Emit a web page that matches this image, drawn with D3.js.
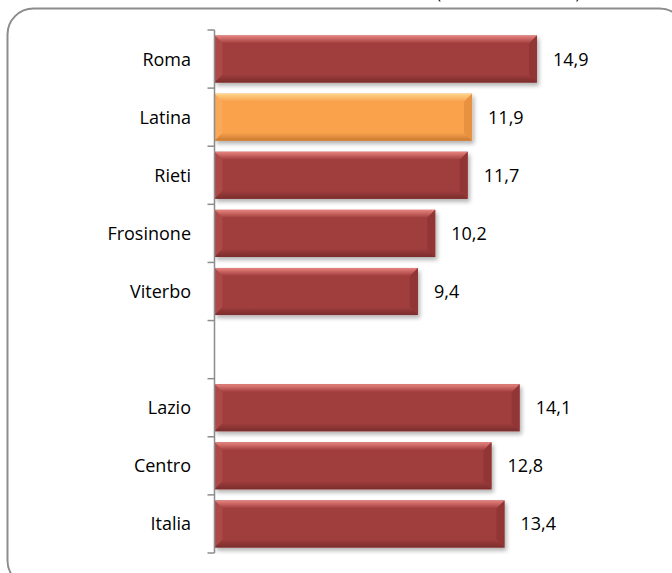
<!DOCTYPE html>
<html><head><meta charset="utf-8">
<script src="https://cdn.jsdelivr.net/npm/d3@7"></script>
<style>html,body{margin:0;padding:0;background:#fff;}svg{display:block;}</style>
</head><body>
<script>
const categories = ["Roma","Latina","Rieti","Frosinone","Viterbo","","Lazio","Centro","Italia"];
const values = [14.9, 11.9, 11.7, 10.2, 9.4, null, 14.1, 12.8, 13.4];
const highlight = ["Latina"];
const titleText = "Tasso di attività (media annua 2011)";

const W = 672, H = 573;
const FONT = "Open Sans, sans-serif";
const svg = d3.select("body").append("svg").attr("width", W).attr("height", H);
const defs = svg.append("defs");

const f = defs.append("filter").attr("id","shadow").attr("x","-5%").attr("y","-30%").attr("width","115%").attr("height","180%");
f.append("feGaussianBlur").attr("in","SourceAlpha").attr("stdDeviation",2).attr("result","b");
f.append("feOffset").attr("dx",2).attr("dy",3).attr("result","o");
f.append("feComponentTransfer").append("feFuncA").attr("type","linear").attr("slope",0.3);
const fm = f.append("feMerge"); fm.append("feMergeNode"); fm.append("feMergeNode").attr("in","SourceGraphic");

const palettes = {
  red: {base:"#a03d3d", top:"#e8847f", left:"#b85350", right:"#8a3333", bottom:"#7a2c2c"},
  orange: {base:"#f9a14c", top:"#ffd58a", left:"#fbb062", right:"#de8c3c", bottom:"#c97a30"}
};
Object.entries(palettes).forEach(([k,p])=>{
  const gt = defs.append("linearGradient").attr("id","top-"+k).attr("x1",0).attr("y1",0).attr("x2",0).attr("y2",1);
  gt.append("stop").attr("offset","0%").attr("stop-color",p.top);
  gt.append("stop").attr("offset","100%").attr("stop-color",p.base);
  const gb = defs.append("linearGradient").attr("id","bot-"+k).attr("x1",0).attr("y1",0).attr("x2",0).attr("y2",1);
  gb.append("stop").attr("offset","0%").attr("stop-color",p.base);
  gb.append("stop").attr("offset","100%").attr("stop-color",p.bottom);
});

// frame
svg.append("rect").attr("x",7.5).attr("y",8.5).attr("width",678).attr("height",578)
  .attr("rx",26).attr("ry",26).attr("fill","#fff").attr("stroke","#8c8c8c").attr("stroke-width",2);

// partially visible title (cut at the top edge as in the reference)
svg.append("text").attr("x",580).attr("y",-1).attr("text-anchor","end")
  .attr("font-family",FONT).attr("font-size",15.5).attr("fill","#000").text(titleText);

const x0 = 214.5;
const x = d3.scaleLinear().domain([0, 14.9]).range([x0, 537]);
const y = d3.scaleBand().domain(categories.map((c,i)=>i)).range([30, 553]).paddingInner(0.19).paddingOuter(0.095);

const data = categories.map((c,i)=>({c, i, v: values[i]})).filter(d=>d.v!=null);
const g = svg.append("g");
data.forEach(d=>{
  const k = highlight.includes(d.c) ? "orange" : "red";
  const p = palettes[k];
  const x1 = x(0), x2 = x(d.v), y1 = y(d.i), y2 = y(d.i)+y.bandwidth();
  const b = 8;
  const bar = g.append("g").attr("filter","url(#shadow)");
  bar.append("rect").attr("x",x1).attr("y",y1).attr("width",x2-x1).attr("height",y2-y1).attr("fill",p.base);
  bar.append("polygon").attr("points",[[x1,y1],[x2,y1],[x2-b,y1+b],[x1+b,y1+b]].join(" ")).attr("fill","url(#top-"+k+")");
  bar.append("polygon").attr("points",[[x1,y1],[x1+b,y1+b],[x1+b,y2-b],[x1,y2]].join(" ")).attr("fill",p.left).attr("opacity",0.55);
  bar.append("polygon").attr("points",[[x2,y1],[x2,y2],[x2-b,y2-b],[x2-b,y1+b]].join(" ")).attr("fill",p.right).attr("opacity",0.7);
  bar.append("polygon").attr("points",[[x1,y2],[x1+b,y2-b],[x2-b,y2-b],[x2,y2]].join(" ")).attr("fill","url(#bot-"+k+")");
  g.append("text").attr("x",x2+16).attr("y",(y1+y2)/2).attr("dy","0.36em")
    .attr("font-family",FONT).attr("font-size",18).attr("fill","#000")
    .text(d3.format(".1f")(d.v).replace(".",","));
});

// axis
const ax = svg.append("g");
ax.append("line").attr("x1",x0).attr("x2",x0).attr("y1",30).attr("y2",553).attr("stroke","#8c8c8c").attr("stroke-width",1.5);
const tickYs = categories.map((c,i)=>y(i)-y.step()*y.paddingInner()/2);
tickYs.push(553);
tickYs[0] = 30;
tickYs.forEach(t=>ax.append("line").attr("x1",x0-7).attr("x2",x0).attr("y1",t).attr("y2",t).attr("stroke","#8c8c8c").attr("stroke-width",1.5));
categories.forEach((c,i)=>{
  if(!c) return;
  ax.append("text").attr("x",191).attr("y",y(i)+y.bandwidth()/2).attr("dy","0.36em").attr("text-anchor","end")
    .attr("font-family",FONT).attr("font-size",18).attr("fill","#000").text(c);
});
</script>
</body></html>
